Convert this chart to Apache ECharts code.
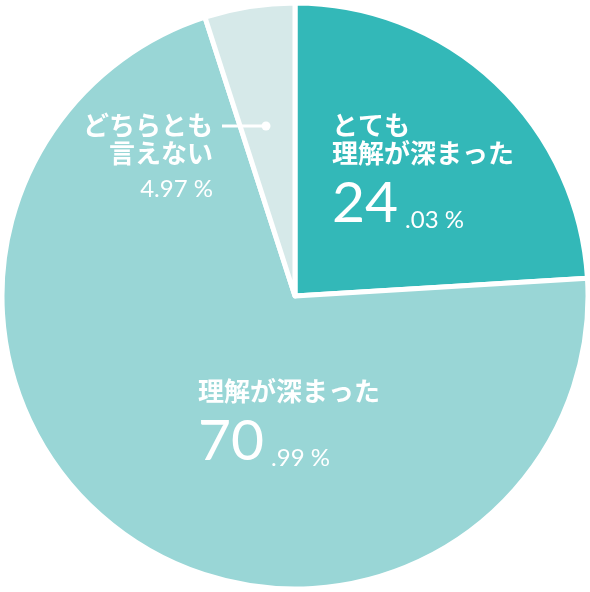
<!DOCTYPE html>
<html>
<head>
<meta charset="utf-8">
<script src="https://cdn.jsdelivr.net/npm/echarts@6/dist/echarts.min.js"></script>
<style>
  html, body { margin: 0; padding: 0; background: #ffffff; }
  #chart { width: 590px; height: 592px; }
</style>
</head>
<body>
<div id="chart"></div>
<script>
// Survey answer shares (percent), clockwise from 12 o'clock
const categories = ['とても\n理解が深まった', '理解が深まった', 'どちらとも\n言えない'];
const shares = [24.03, 70.99, 4.97];
const sliceColors = ['#33b8b8', '#99d6d6', '#d6e9e9'];

// Where each label block is anchored, and how it aligns there
const labelAnchors = [
  { x: 332, y: 110, align: 'left' },
  { x: 198, y: 376, align: 'left' },
  { x: 213, y: 110, align: 'right' }
];

const JP = '"Noto Sans CJK JP", "Noto Sans", sans-serif';
const NUM = 'Lato, "Noto Sans", sans-serif';

function jpLines(name) {
  return name.split('\n').map(s => '{jp|' + s + '}').join('\n');
}

function labelText(params) {
  const i = params.dataIndex;
  const v = shares[i].toFixed(2);
  const intPart = v.split('.')[0];
  const frac = v.split('.')[1];
  if (i === 2) {
    return jpLines(categories[i]) + '\n{mid|' + v + ' %}';
  }
  return jpLines(categories[i]) + '\n{big|' + intPart + '}{small|.' + frac + ' %}';
}

const chart = echarts.init(document.getElementById('chart'), null, { renderer: 'canvas' });

chart.setOption({
  animation: false,
  backgroundColor: '#ffffff',
  series: [{
    type: 'pie',
    center: [295, 296],
    radius: [0, 293],
    startAngle: 90,
    clockwise: true,
    silent: true,
    emphasis: { disabled: true },
    itemStyle: { borderColor: '#ffffff', borderWidth: 5 },
    data: categories.map((name, i) => ({
      name: name,
      value: shares[i],
      itemStyle: { color: sliceColors[i] }
    })),
    label: {
      show: true,
      position: 'inside',
      formatter: labelText,
      color: '#ffffff',
      rich: {
        jp: { fontFamily: JP, fontWeight: 'bold', fontSize: 26, lineHeight: 28, color: '#ffffff', verticalAlign: 'bottom' },
        big: { fontFamily: NUM, fontWeight: 'normal', fontSize: 57, lineHeight: 66, color: '#ffffff', verticalAlign: 'bottom' },
        small: { fontFamily: NUM, fontWeight: 'normal', fontSize: 24, lineHeight: 56, color: '#ffffff', verticalAlign: 'bottom', padding: [0, 0, 0, 7] },
        mid: { fontFamily: NUM, fontWeight: 'normal', fontSize: 24, lineHeight: 35, color: '#ffffff', verticalAlign: 'bottom' }
      }
    },
    labelLine: { show: false },
    labelLayout: function (params) {
      const a = labelAnchors[params.dataIndex];
      return { x: a.x, y: a.y, align: a.align, verticalAlign: 'top', hideOverlap: false, moveOverlap: null };
    }
  }],
  graphic: [
    {
      type: 'line',
      silent: true,
      z: 100,
      shape: { x1: 222, y1: 126, x2: 266, y2: 126 },
      style: { stroke: '#ffffff', lineWidth: 3 }
    },
    {
      type: 'circle',
      silent: true,
      z: 100,
      shape: { cx: 266, cy: 126, r: 4.5 },
      style: { fill: '#ffffff' }
    }
  ]
});
</script>
</body>
</html>
